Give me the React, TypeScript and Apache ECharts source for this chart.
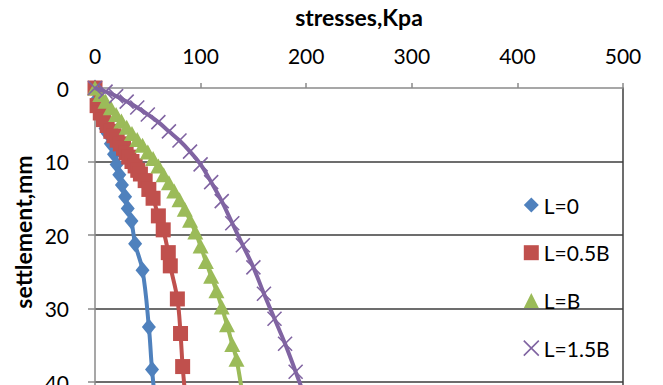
import React, { useEffect, useRef } from "react";
import * as echarts from "echarts";

const seriesNames = ["L=0", "L=0.5B", "L=B", "L=1.5B"];
const xAxisTitle = "stresses,Kpa";
const yAxisTitle = "settlement,mm";

// L=0 (stress kPa, settlement mm)
const stressL0 = [0, 2, 5, 8, 10, 12, 15, 18, 20.5, 23, 25.5, 28.5, 31, 34.5, 38, 45, 51, 54, 58];
const settleL0 = [0, 1.5, 3.0, 4.7, 5.5, 6.2, 7.6, 9.0, 10.4, 11.8, 13.2, 14.8, 16.4, 18.1, 21.2, 24.8, 32.5, 38.3, 44];

// L=0.5B
const stressL05 = [0, 2, 5, 8, 11.5, 15, 18, 21, 24, 27, 29.5, 32, 35, 38, 40.5, 43, 47.5, 51, 55, 60, 64.6, 69.4, 71.3, 78, 81, 83, 87];
const settleL05 = [0, 2.4, 3.4, 4.3, 5.1, 5.9, 6.5, 7.1, 7.6, 8.2, 8.8, 9.4, 10.0, 10.6, 11.2, 11.7, 12.6, 13.8, 15.0, 17.4, 19.3, 22.4, 24.2, 28.7, 33.4, 37.9, 44];

// L=B
const stressL1 = [0, 5, 10, 15, 20, 25, 30, 35, 40, 45, 50, 55, 60, 65, 70, 75, 80, 85, 90, 95, 100, 105, 110, 115, 120, 125, 130, 134, 141];
const settleL1 = [0, 0.9, 1.8, 2.7, 3.6, 4.5, 5.35, 6.2, 7.0, 7.8, 8.7, 9.6, 10.6, 11.8, 12.9, 14.0, 15.2, 16.5, 18.0, 19.6, 21.5, 23.6, 25.6, 27.6, 29.8, 32.2, 34.9, 36.9, 43];

// L=1.5B
const stressL15 = [0, 10, 20, 30, 40, 50, 60, 70, 80, 90, 100, 110, 120, 130, 140, 150, 160, 170, 180, 190, 200];
const settleL15 = [0, 0.5, 1.1, 1.85, 2.65, 3.6, 4.65, 5.9, 7.15, 8.65, 10.4, 12.8, 15.4, 18.4, 21.4, 24.4, 28.0, 31.4, 34.8, 38.6, 42.5];

const stressTicks = { min: 0, max: 500, interval: 100 };
const settleTicks = { min: 0, max: 50, interval: 10 };

const colors = ["#4F81BD", "#C0504D", "#9BBB59", "#8064A2"];
const symbols = ["diamond", "rect", "triangle", "path://M0,0L10,10M10,0L0,10"];
const symbolSizes: any[] = [[14, 17], 15, [16, 15], 14];

const FONT = "Lato";

export default function App() {
  const ref = useRef<HTMLDivElement>(null);
  useEffect(() => {
    if (!ref.current) return;
    const chart = echarts.init(ref.current, undefined, { renderer: "svg" });
    const allStress = [stressL0, stressL05, stressL1, stressL15];
    const allSettle = [settleL0, settleL05, settleL1, settleL15];
    const series = seriesNames.map((name, i) => {
      const isX = i === 3;
      return {
        name,
        type: "line",
        data: allStress[i].map((s, k) => [s, allSettle[i][k]]),
        smooth: 0.4,
        symbol: symbols[i],
        symbolSize: symbolSizes[i],
        showAllSymbol: true,
        lineStyle: { color: colors[i], width: 4 },
        itemStyle: isX
          ? { color: "rgba(0,0,0,0)", borderColor: colors[i], borderWidth: 1.6 }
          : { color: colors[i], borderWidth: 0 },
        emphasis: { disabled: true },
        z: 2 + i,
      };
    });
    chart.setOption({
      animation: false,
      textStyle: { fontFamily: FONT },
      grid: { left: 95, right: 40, top: 83, bottom: 14.5 },
      legend: {
        orient: "vertical",
        left: 518,
        top: 189,
        itemWidth: 15,
        itemHeight: 15,
        itemGap: 25.7,
        textStyle: { fontFamily: FONT, fontSize: 21, color: "#000", lineHeight: 22 },
        data: seriesNames.map((n, i) => ({
          name: n,
          icon: symbols[i],
          itemStyle:
            i === 3
              ? { color: "rgba(0,0,0,0)", borderColor: colors[i], borderWidth: 1.6 }
              : { color: colors[i], borderWidth: 0 },
        })),
      },
      graphic: [
        {
          type: "text",
          x: 23,
          y: 232,
          rotation: Math.PI / 2,
          style: {
            text: yAxisTitle,
            align: "center",
            verticalAlign: "middle",
            font: `bold 23px ${FONT}`,
            fill: "#000",
          },
        },
      ],
      xAxis: {
        type: "value",
        position: "top",
        min: stressTicks.min,
        max: stressTicks.max,
        interval: stressTicks.interval,
        name: xAxisTitle,
        nameLocation: "middle",
        nameGap: 60,
        nameTextStyle: { fontFamily: FONT, fontSize: 23, fontWeight: "bold", color: "#000" },
        axisLine: { show: true, lineStyle: { color: "#8a8a8a", width: 1.5 } },
        axisTick: { show: true, inside: false, length: 5, lineStyle: { color: "#8a8a8a", width: 1.5 } },
        axisLabel: { fontFamily: FONT, fontSize: 21, color: "#000", margin: 22 },
        splitLine: { show: false },
      },
      yAxis: [
        {
          type: "value",
          inverse: true,
          position: "left",
          min: settleTicks.min,
          max: settleTicks.max,
          interval: settleTicks.interval,
          axisLine: { show: true, lineStyle: { color: "#8a8a8a", width: 1.5 } },
          axisTick: { show: true, inside: false, length: 7, lineStyle: { color: "#8a8a8a", width: 1.5 } },
          axisLabel: { fontFamily: FONT, fontSize: 21, color: "#000", margin: 26 },
          splitLine: { show: true, showMinLine: false, lineStyle: { color: "#3c3c3c", width: 1.5 } },
        },
        {
          type: "value",
          inverse: true,
          position: "right",
          min: settleTicks.min,
          max: settleTicks.max,
          interval: settleTicks.interval,
          axisLine: { show: true, lineStyle: { color: "#3c3c3c", width: 1.5 } },
          axisTick: { show: false },
          axisLabel: { show: false },
          splitLine: { show: false },
        },
      ],
      series,
    });
    return () => chart.dispose();
  }, []);
  return (
    <div style={{ position: "fixed", left: 0, top: 0, width: 663, height: 385, overflow: "hidden", background: "#fff" }}>
      <div ref={ref} style={{ width: 663, height: 470 }} />
    </div>
  );
}
